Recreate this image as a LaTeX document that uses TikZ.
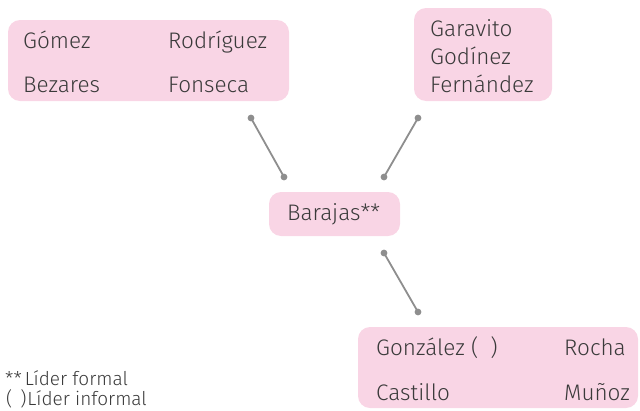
\documentclass[tikz,border=0pt]{standalone}
\usepackage{fontspec}
\setmainfont{Fira Sans Light}
\usetikzlibrary{positioning}

\definecolor{boxpink}{HTML}{F9D5E5}
\definecolor{linegray}{HTML}{8E8E8E}
\definecolor{textgray}{HTML}{3A3A3A}

\tikzset{
  groupbox/.style={fill=boxpink, rounded corners=12pt, inner sep=0pt},
  member/.style={anchor=base west, inner sep=0pt, text=textgray, font=\fontsize{22.5}{26}\selectfont},
  legendtext/.style={anchor=base west, inner sep=0pt, text=textgray, font=\fontsize{19}{22}\selectfont},
  link/.style={draw=linegray, line width=1.8pt},
  linkdot/.style={fill=linegray}
}

\begin{document}
\begin{tikzpicture}[x=1pt, y=-1pt]
\useasboundingbox (0,0) rectangle (640,410);

\def \dotsize {3.4}
\def \colone {23}
\def \coltwo {168}

% groups
\node [groupbox, minimum width=281pt, minimum height=81pt] (left) at (148.5,60.5) {};
\node [groupbox, minimum width=138pt, minimum height=93pt] (right) at (483,54.5) {};
\node [groupbox, minimum width=131pt, minimum height=44pt] (barajas) at (334.5,214) {};
\node [groupbox, minimum width=280pt, minimum height=81pt] (bottom) at (498,367.5) {};

\node [member] (barajasname) at (287,220) {Barajas**};

\node [member] (gomez) at (\colone,48) {Gómez};
\node [member] (rodriguez) at (\coltwo,48) {Rodríguez};
\node [member] (bezares) at (\colone,92) {Bezares};
\node [member] (fonseca) at (\coltwo,92) {Fonseca};

\node [member] (garavito) at (430,36) {Garavito};
\node [member] (godinez) at (430,64) {Godínez};
\node [member] (fernandez) at (430,92) {Fernández};

\node [member] (gonzalez) at (376,355) {González (\hspace{12pt})};
\node [member] (rocha) at (564,355) {Rocha};
\node [member] (castillo) at (376,400) {Castillo};
\node [member] (munoz) at (564,400) {Muñoz};

% links
\coordinate (a1) at (251,118);
\coordinate (a2) at (284,177);
\coordinate (b1) at (418,118);
\coordinate (b2) at (384,177);
\coordinate (c1) at (384,253);
\coordinate (c2) at (418,312);

\draw [link] (a1) -- (a2);
\draw [link] (b1) -- (b2);
\draw [link] (c1) -- (c2);
\foreach \p in {a1,a2,b1,b2,c1,c2}
  \fill [linkdot] (\p) circle [radius=\dotsize];

% legend
\node [legendtext] (formal) at (5,385) {**\hspace{3pt}Líder formal};
\node [legendtext] (informal) at (6,405) {(\hspace{8pt})\hspace{1pt}Líder informal};
\end{tikzpicture}
\end{document}
